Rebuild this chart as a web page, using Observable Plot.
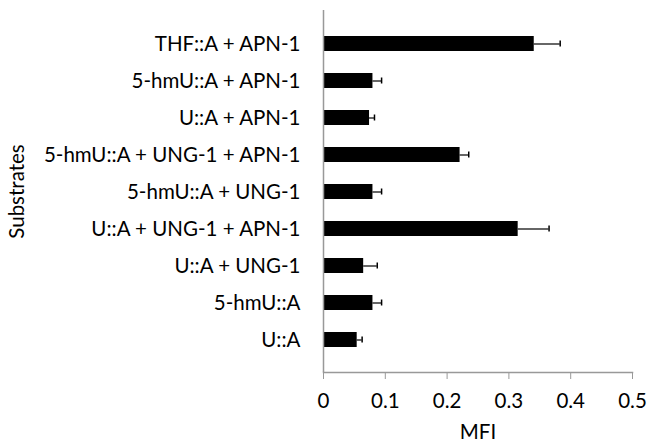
<!DOCTYPE html>
<html>
<head>
<meta charset="utf-8">
<script src="https://cdn.jsdelivr.net/npm/d3@7"></script>
<script src="https://cdn.jsdelivr.net/npm/@observablehq/plot@0.6"></script>
<style>
  html, body { margin: 0; padding: 0; background: #fff; }
  #chart svg { display: block; }
</style>
</head>
<body>
<div id="chart"></div>
<script>
const substrates = [
  "THF::A + APN-1",
  "5-hmU::A + APN-1",
  "U::A + APN-1",
  "5-hmU::A + UNG-1 + APN-1",
  "5-hmU::A + UNG-1",
  "U::A + UNG-1 + APN-1",
  "U::A + UNG-1",
  "5-hmU::A",
  "U::A"
];
const mfi = [0.341, 0.080, 0.0745, 0.221, 0.080, 0.315, 0.065, 0.080, 0.0545];
const errors = [0.042, 0.014, 0.008, 0.014, 0.014, 0.050, 0.022, 0.014, 0.008];
const xTicks = [0, 0.1, 0.2, 0.3, 0.4, 0.5];

const data = substrates.map((s, i) => ({s, v: mfi[i], e: errors[i], hi: mfi[i] + errors[i]}));
const font = "Lato, 'Open Sans', sans-serif";

const chart = Plot.plot({
  width: 647,
  height: 445,
  marginLeft: 323,
  marginRight: 15,
  marginTop: 10,
  marginBottom: 73,
  style: {fontFamily: font, fontSize: "20.5px", color: "#000", background: "#fff"},
  x: {domain: [0, 0.5]},
  y: {domain: substrates, padding: 0.6},
  marks: [
    Plot.barX(data, {y: "s", x: "v", fill: "#000"}),
    Plot.ruleY(data, {y: "s", x1: "v", x2: "hi", stroke: "#000", strokeWidth: 1.2}),
    Plot.tickX(data, {y: "s", x: "hi", stroke: "#000", strokeWidth: 1.5, insetTop: 4.5, insetBottom: 4.5}),
    Plot.ruleX([0], {stroke: "#999", strokeWidth: 1.5}),
    Plot.frame({anchor: "bottom", stroke: "#999", strokeWidth: 1.5}),
    Plot.axisX({ticks: xTicks, tickSize: 7, stroke: "#999", tickPadding: 14, fontSize: 20.5, tickFormat: d => String(d), label: "MFI", labelAnchor: "center", labelArrow: "none", labelOffset: 66}),
    Plot.axisY({tickSize: 0, tickPadding: 23, fontSize: 20.5, label: "Substrates", labelAnchor: "center", labelArrow: "none", labelOffset: 314})
  ]
});
document.getElementById("chart").appendChild(chart);
</script>
</body>
</html>
